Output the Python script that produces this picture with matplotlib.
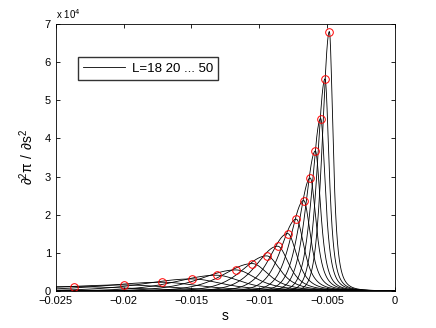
import matplotlib
matplotlib.use('Agg')
import matplotlib.pyplot as plt
import numpy as np

plt.rcParams['font.family'] = ['Liberation Sans', 'DejaVu Sans']

# system sizes
L = [18, 20, 22, 24, 26, 28, 30, 32, 34, 36, 38, 40, 42, 44, 46, 48, 50]
# peak location and height read from the red circles
s_peak = [-0.02365, -0.01996, -0.01716, -0.01495, -0.01315, -0.01173, -0.01052,
          -0.00946, -0.00865, -0.00791, -0.00728, -0.00673, -0.00625, -0.00587,
          -0.00548, -0.00516, -0.00484]
peak_h = [1130, 1575, 2280, 3150, 4120, 5510, 7170, 9190, 11730, 15040, 18820,
          23700, 29600, 36700, 45200, 55600, 68000]
# estimated half widths left / right of each peak
w_left = [0.0075, 0.0062, 0.0051, 0.0042, 0.0035, 0.0030, 0.0025, 0.0021,
          0.0018, 0.00152, 0.00130, 0.00112, 0.00097, 0.00085, 0.00075,
          0.00066, 0.00059]
w_right = [0.0052, 0.0041, 0.0033, 0.0027, 0.0022, 0.0018, 0.00145, 0.00120,
           0.00100, 0.00084, 0.00071, 0.00061, 0.00053, 0.00046, 0.00041,
           0.00036, 0.00032]

s = np.linspace(-0.025, 0, 4000)

fig = plt.figure(figsize=(4.36, 3.28), dpi=100)
ax = fig.add_axes([0.128, 0.113, 0.778, 0.814])

k = np.arccosh(np.sqrt(2))
c = 2 ** (2 / 3) - 1
for sp, h, wl, wr in zip(s_peak, peak_h, w_left, w_right):
    xl = (s - sp) / wl
    xr = (s - sp) / wr
    y = np.where(s < sp, h / np.cosh(k * xl) ** 2, h * (1 + c * xr ** 2) ** -1.5)
    ax.plot(s, y, color='black', linewidth=0.6)
ax.plot(s_peak, peak_h, 'o', mfc='none', mec='red', ms=5.5, mew=0.7)

leg_line, = ax.plot([], [], color='black', linewidth=0.6, label='L=18 20 ... 50')
ax.legend(handles=[leg_line], loc='upper left', bbox_to_anchor=(0.045, 0.9),
          fontsize=9.5, frameon=True, fancybox=False, edgecolor='black',
          handlelength=3.2, borderpad=0.4, handletextpad=0.5)

ax.set_xlim(-0.025, 0)
ax.set_ylim(0, 70000)
ax.set_xticks([-0.025, -0.02, -0.015, -0.01, -0.005, 0])
ax.set_xticklabels(['\u22120.025', '\u22120.02', '\u22120.015', '\u22120.01', '\u22120.005', '0'])
ax.set_yticks(np.arange(0, 70001, 10000))
ax.set_yticklabels([str(i) for i in range(8)])
ax.tick_params(direction='in', top=True, right=True, labelsize=8, length=3, width=0.6)
for sp_ in ax.spines.values():
    sp_.set_linewidth(0.6)
ax.text(0.0, 1.01, 'x 10$^{4}$', transform=ax.transAxes, fontsize=7, ha='left', va='bottom')
ax.set_xlabel('s', fontsize=10, labelpad=2)
ax.set_ylabel(r'$\mathregular{\partial^2\pi\ /\ \partial s^2}$', fontsize=10, labelpad=6)

fig.savefig('out.png', dpi=100)
